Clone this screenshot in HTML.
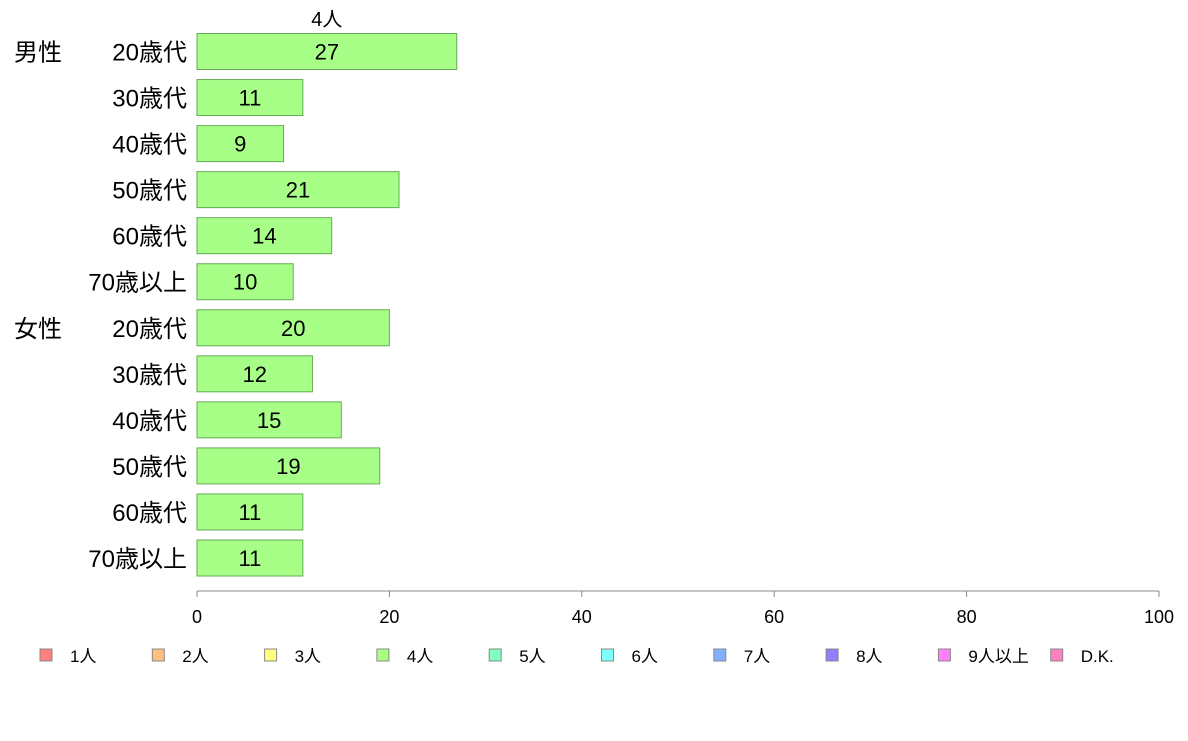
<!DOCTYPE html>
<html><head><meta charset="utf-8"><style>
body{margin:0;background:#fff;width:1188px;height:736px;overflow:hidden;font-family:"Liberation Sans","Noto Sans CJK JP",sans-serif}
</style></head><body>
<svg id="chart" width="1188" height="736" xmlns="http://www.w3.org/2000/svg" font-family="Liberation Sans, Noto Sans CJK JP, sans-serif"></svg>
<script>
const categories=["男性 20歳代","30歳代","40歳代","50歳代","60歳代","70歳以上","女性 20歳代","30歳代","40歳代","50歳代","60歳代","70歳以上"];
const values=[27,11,9,21,14,10,20,12,15,19,11,11];
const ticks=[0,20,40,60,80,100];
const legendLabels=["1人","2人","3人","4人","5人","6人","7人","8人","9人以上","D.K."];
const legendColors=["#ff8080","#ffc080","#ffff80","#a8ff80","#80ffc0","#80ffff","#80b0ff","#9080ff","#ff80ff","#ff80c0"];
const seriesName="4人";
const svg=document.getElementById('chart');
const NS="http://www.w3.org/2000/svg";
const x0=197,x1=1159,xMax=100;
const xs=v=>x0+(v/xMax)*(x1-x0);
const yTop=51.5,yBot=558;
const yc=i=>yTop+i*(yBot-yTop)/(categories.length-1);
const barH=36;
function mk(tag,attrs,text){const e=document.createElementNS(NS,tag);for(const k in attrs)e.setAttribute(k,attrs[k]);if(text!==undefined)e.textContent=text;svg.appendChild(e);return e;}
let t=mk('text',{x:xs(values[0])/2+x0/2,y:26,'font-size':20,'text-anchor':'middle'},seriesName);


categories.forEach((c,i)=>{
  const r=mk('rect',{x:x0,y:yc(i)-barH/2,width:xs(values[i])-x0,height:barH,fill:'#a8ff88',stroke:'#66aa55','stroke-width':1});
  
  
  const v=mk('text',{x:(x0+xs(values[i]))/2,y:yc(i)+8,'font-size':22,'text-anchor':'middle'},values[i]);
  
  
  const parts=c.split(' ');
  const l=mk('text',{x:187,y:yc(i)+9,'font-size':24,'text-anchor':'end'},parts[parts.length-1]);
  
  
  if(parts.length>1){
    const g=mk('text',{x:14,y:yc(i)+9,'font-size':24},parts[0]);
    
    
  }
});
const ax=mk('line',{x1:x0,x2:x1,y1:591,y2:591,stroke:'#888','stroke-width':1});


ticks.forEach(tk=>{
  const l=mk('line',{x1:xs(tk),x2:xs(tk),y1:591,y2:597,stroke:'#888'});
  
  
  const tx=mk('text',{x:xs(tk),y:623,'font-size':18,'text-anchor':'middle'},tk);
  
  
});
legendLabels.forEach((lb,i)=>{
  const lx=40+i*112.3;
  const r=mk('rect',{x:lx,y:649,width:12,height:12,fill:legendColors[i],stroke:'#888'});
  
  
  const tx=mk('text',{x:lx+30,y:662,'font-size':17},lb);
  
  
});
</script>
</body></html>
